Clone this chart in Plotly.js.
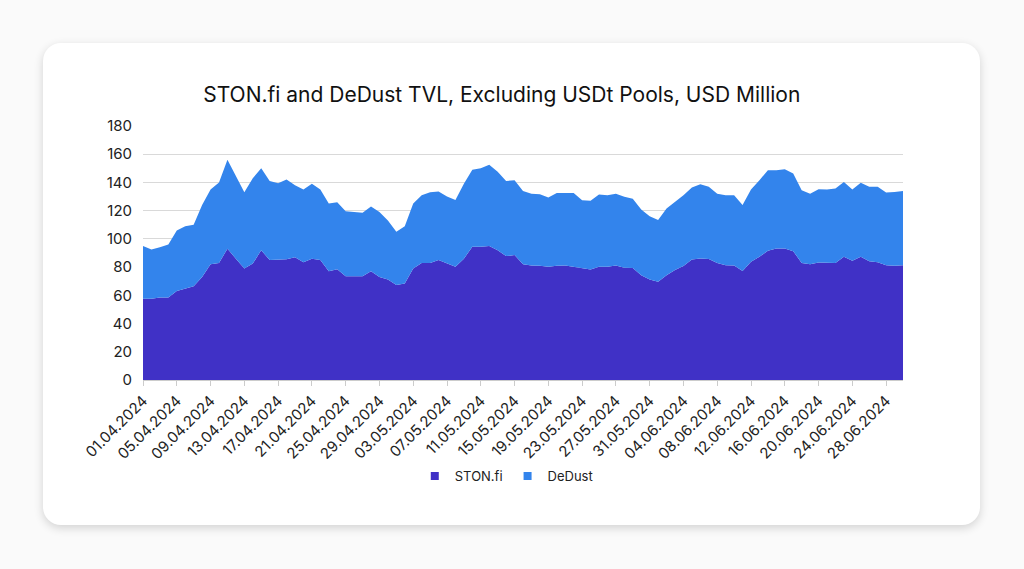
<!DOCTYPE html>
<html>
<head>
<meta charset="utf-8">
<script src="https://cdn.plot.ly/plotly-3.0.1.min.js"></script>
<style>
  html, body { margin: 0; padding: 0; width: 1024px; height: 569px; background: #fafafa; overflow: hidden; }
  #card {
    position: absolute; left: 43px; top: 43px; width: 937px; height: 482px;
    background: #ffffff; border-radius: 18px;
    box-shadow: 0 3px 10px rgba(0, 0, 0, 0.16);
  }
  #chart { position: absolute; left: 0; top: 0; width: 1024px; height: 569px; }
</style>
</head>
<body>
<div id="card"></div>
<div id="chart"></div>
<script>
// daily dates 01.04.2024 .. 30.06.2024
const dates = []
for (let d = new Date(2024, 3, 1); d <= new Date(2024, 5, 30); d.setDate(d.getDate() + 1)) {
  const dd = String(d.getDate()).padStart(2, '0')
  const mm = String(d.getMonth() + 1).padStart(2, '0')
  dates.push(dd + '.' + mm + '.' + d.getFullYear())
}

// USD million
const stonfi = [
  57.5, 57.5, 58.5, 58.5, 63, 65, 66.5, 73, 82, 83,
  93, 86, 79, 82.5, 92, 85, 85, 85.5, 87, 83.5,
  86, 85, 77, 78.5, 73.5, 73.5, 73.5, 77, 73, 71.3,
  67.3, 68.4, 79, 83, 83, 85, 82.6, 80.2, 86, 94.4,
  94.4, 95, 92, 87.8, 88.5, 82, 81.2, 81, 80.2, 81,
  81.2, 80.2, 79.3, 78.3, 80.2, 80.2, 81.2, 79.5, 79.3, 74.3,
  71.3, 69.6, 74.3, 77.9, 80.7, 85.4, 86.1, 85.7, 83, 81.4,
  81.2, 77.2, 83.8, 87.3, 91.6, 93.2, 93.2, 91.3, 83, 82.1,
  83.3, 83.3, 83, 87.3, 84.5, 87.3, 84.2, 83.5, 81.4, 81,
  81.4
]
const dedust = [
  37.5, 35, 35.5, 37.5, 43, 44, 43.5, 51, 53, 57,
  63, 58, 54, 60.5, 58, 56, 54.5, 56.5, 51, 51.5,
  53, 50, 48, 47.5, 46, 45.5, 45, 46, 46, 41.7,
  37.7, 40.6, 46, 48, 50, 48.5, 47.4, 47.3, 53, 54.6,
  55.6, 57.5, 55.5, 53.2, 53.1, 52, 50.8, 50.7, 49.1, 51.6,
  51.4, 52.4, 48.1, 48.7, 51.2, 50.8, 50.8, 50.3, 49.1, 46.5,
  44.7, 43.7, 47.2, 48.1, 50.3, 51, 52.7, 51.2, 49, 49.6,
  49.8, 46.8, 51.2, 54.3, 57.1, 55.5, 56.2, 55, 51.5, 49.9,
  51.9, 51.7, 52.7, 53.1, 50.5, 52.4, 52.7, 53.4, 51.5, 52.3,
  52.6
]
const tickLabels = dates.filter((_, i) => i % 4 === 0)

const seriesNames = ['STON.fi', 'DeDust']
const seriesColors = ['#4031c6', '#3384ec']
const seriesValues = [stonfi, dedust]

const data = []
seriesNames.forEach((name, k) => {
  data.push({
    x: dates, y: seriesValues[k], name: name,
    type: 'scatter', mode: 'lines', stackgroup: 'tvl', showlegend: false,
    line: { width: 0, color: seriesColors[k] }, fillcolor: seriesColors[k],
  })
})
// square legend keys like the original
seriesNames.forEach((name, k) => {
  data.push({
    x: [null], y: [null], name: name,
    type: 'scatter', mode: 'markers',
    marker: { symbol: 'square', size: 8, color: seriesColors[k] },
  })
})

const layout = {
  width: 1024,
  height: 569,
  font: { family: 'Inter, "Noto Sans", sans-serif', color: '#222222', size: 13 },
  title: {
    text: 'STON.fi and DeDust TVL, Excluding USDt Pools, USD Million',
    xref: 'container', yref: 'container',
    x: 0.49, y: 1 - 95 / 569, xanchor: 'center', yanchor: 'middle',
    font: { size: 21, color: '#111111' },
  },
  paper_bgcolor: 'rgba(0,0,0,0)',
  plot_bgcolor: 'rgba(0,0,0,0)',
  margin: { l: 143, r: 121, t: 126, b: 189 },
  showlegend: true,
  legend: {
    orientation: 'h', x: 0.478, xanchor: 'center', y: -0.378, yanchor: 'middle',
    font: { size: 13, color: '#222222' }, itemwidth: 30, traceorder: 'normal',
  },
  xaxis: {
    type: 'category',
    range: [0, dates.length - 1],
    tickmode: 'array', tickvals: tickLabels, ticktext: tickLabels,
    tickangle: -45,
    ticks: 'outside', ticklen: 5, tickcolor: '#cccccc',
    showline: true, linecolor: '#cccccc',
    showgrid: false,
    tickfont: { size: 15, color: '#222222' },
  },
  yaxis: {
    range: [0, 180], dtick: 20,
    gridcolor: '#d9d9d9', zeroline: false,
    ticks: '', tickfont: { size: 15, color: '#222222' },
    ticklabelstandoff: 10,
  },
}

Plotly.newPlot('chart', data, layout, { displayModeBar: false, responsive: false })
</script>
</body>
</html>
